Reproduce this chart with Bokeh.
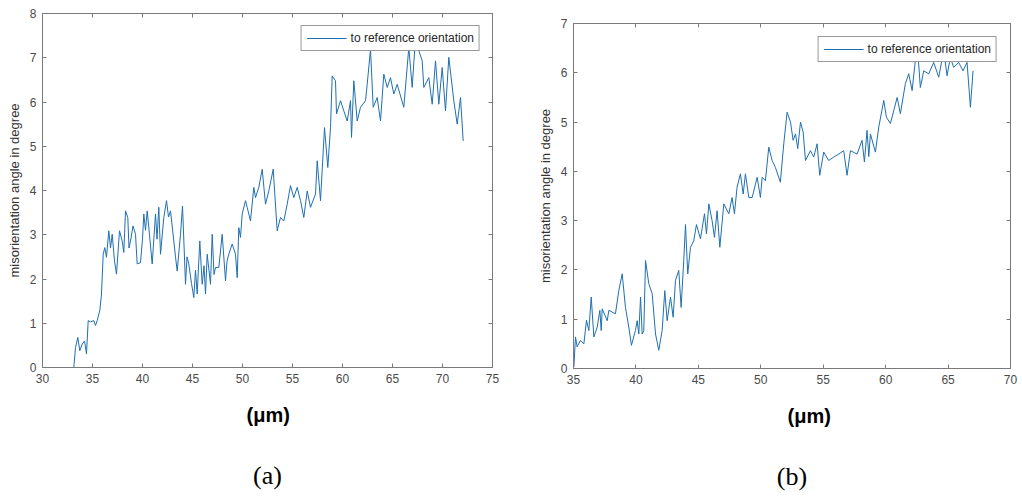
from bokeh.plotting import figure
from bokeh.models import Range1d, FixedTicker, LinearAxis, Title
from bokeh.layouts import row, column
from bokeh.embed import file_html
from bokeh.resources import INLINE

# ---------------- data ----------------
a_x = [33.13, 33.3, 33.53, 33.73, 33.97, 34.2, 34.4, 34.57, 34.8, 35.13, 35.3, 35.47, 35.73, 35.9,
       36.07, 36.23, 36.4, 36.63, 36.8, 36.97, 37.2, 37.4, 37.55, 37.7, 37.97, 38.13, 38.3, 38.53,
       38.65, 38.8, 39.05, 39.3, 39.47, 39.8, 40.0, 40.13, 40.3, 40.47, 40.7, 40.97, 41.3, 41.45,
       41.63, 41.8, 42.13, 42.4, 42.6, 42.8, 43.13, 43.3, 43.47, 43.8, 44.0, 44.3, 44.45, 44.63,
       44.9, 45.13, 45.3, 45.47, 45.73, 45.97, 46.15, 46.3, 46.47, 46.8, 46.97, 47.15, 47.3, 47.63,
       47.97, 48.3, 48.45, 48.63, 48.97, 49.3, 49.47, 49.63, 49.8, 49.97, 50.3, 50.47, 50.8, 51.13,
       51.3, 51.63, 51.97, 52.3, 52.63, 53.07, 53.47, 53.8, 54.13, 54.47, 54.8, 55.13, 55.47, 55.8,
       56.13, 56.47, 56.8, 57.3, 57.47, 57.8, 58.2, 58.53, 58.8, 58.97, 59.3, 59.4, 59.8, 60.13,
       60.47, 60.8, 60.9, 61.13, 61.47, 61.8, 62.3, 62.47, 62.8, 63.07, 63.47, 63.8, 64.13, 64.47,
       64.8, 65.13, 65.47, 66.13, 66.63, 66.97, 67.3, 67.63, 67.97, 68.13, 68.63, 68.97, 69.3, 69.63,
       69.97, 70.3, 70.63, 71.13, 71.47, 71.8, 72.07]
a_y = [0.0, 0.45, 0.68, 0.38, 0.53, 0.6, 0.31, 1.06, 1.03, 1.06, 0.95, 1.06, 1.29, 1.66,
       2.56, 2.71, 2.49, 3.09, 2.7, 3.01, 2.41, 2.11, 2.6, 3.09, 2.86, 2.6, 3.54, 3.39,
       2.7, 2.86, 3.2, 3.01, 2.34, 2.37, 2.9, 3.47, 3.1, 3.54, 3.0, 2.34, 3.47, 2.9,
       3.62, 2.56, 3.39, 3.77, 3.4, 3.54, 2.86, 2.5, 2.18, 3.01, 3.65, 1.88, 2.5, 2.34,
       1.9, 1.58, 2.2, 1.66, 2.86, 1.88, 2.3, 1.66, 2.56, 1.88, 3.01, 2.1, 2.26, 2.26,
       3.01, 1.96, 2.4, 2.56, 2.79, 2.56, 2.03, 3.16, 2.94, 3.47, 3.77, 3.62, 3.31, 4.07,
       3.84, 4.07, 4.48, 3.69, 3.99, 4.48, 3.09, 3.39, 3.31, 3.69, 4.11, 3.84, 4.07, 3.77,
       3.39, 3.99, 3.62, 3.92, 4.67, 3.77, 5.42, 4.52, 5.42, 6.59, 6.48, 5.73, 6.03, 5.8,
       5.57, 6.03, 5.2, 6.48, 5.57, 5.88, 6.03, 6.4, 7.19, 5.88, 6.1, 5.57, 6.63, 6.33,
       6.55, 6.18, 6.4, 5.88, 7.23, 6.33, 7.46, 7.16, 6.93, 6.33, 6.55, 5.95, 6.93, 5.95,
       6.78, 5.8, 7.01, 6.03, 5.5, 6.1, 5.12]

b_x = [35.03, 35.16, 35.29, 35.56, 35.83, 36.04, 36.23, 36.42, 36.63, 36.9, 37.11, 37.22, 37.3,
       37.7, 37.83, 38.36, 38.63, 38.9, 39.16, 39.43, 39.64, 39.96, 40.1, 40.23, 40.37, 40.5,
       40.63, 40.77, 41.03, 41.3, 41.57, 41.83, 42.1, 42.31, 42.5, 42.77, 42.98, 43.17, 43.43,
       43.62, 43.83, 43.97, 44.15, 44.37, 44.63, 44.85, 45.17, 45.49, 45.65, 45.84, 46.1, 46.29,
       46.5, 46.72, 47.04, 47.44, 47.7, 47.89, 48.1, 48.37, 48.59, 48.77, 49.04, 49.31, 49.71,
       49.97, 50.11, 50.37, 50.64, 50.91, 51.17, 51.57, 51.84, 52.11, 52.38, 52.59, 52.78, 52.96,
       53.18, 53.39, 53.58, 53.98, 54.24, 54.51, 54.72, 55.04, 55.44, 55.84, 56.24, 56.64, 56.91,
       57.18, 57.71, 58.11, 58.3, 58.51, 58.65, 58.78, 59.18, 59.45, 59.85, 60.06, 60.38, 60.65,
       60.92, 61.18, 61.58, 61.85, 62.12, 62.38, 62.57, 62.78, 63.05, 63.45, 63.85, 64.25, 64.65,
       64.92, 65.18, 65.45, 65.85, 66.2, 66.52, 66.79, 67.0]
b_y = [0.03, 0.64, 0.44, 0.57, 0.5, 0.98, 0.77, 1.45, 0.64, 0.84, 1.18, 0.77, 1.21,
       0.97, 1.18, 1.11, 1.58, 1.92, 1.24, 0.84, 0.47, 0.77, 0.97, 0.7, 1.45, 0.7,
       0.77, 2.19, 1.72, 1.52, 0.7, 0.37, 0.77, 1.58, 0.97, 1.45, 1.04, 1.79, 1.99,
       1.24, 2.19, 2.92, 1.92, 2.46, 2.59, 2.92, 2.63, 3.14, 2.73, 3.34, 3.0, 2.66,
       3.2, 2.46, 3.34, 3.14, 3.47, 3.14, 3.68, 3.95, 3.54, 3.95, 3.47, 3.47, 3.88,
       3.47, 3.88, 3.81, 4.49, 4.22, 4.08, 3.78, 4.56, 5.2, 5.0, 4.63, 4.76, 4.46,
       5.0, 4.8, 4.22, 4.42, 4.29, 4.56, 3.92, 4.39, 4.22, 4.29, 4.35, 4.42, 3.92,
       4.42, 4.35, 4.63, 4.19, 4.83, 4.3, 4.76, 4.39, 4.9, 5.44, 5.1, 4.97, 5.23,
       5.5, 5.17, 5.78, 5.98, 5.64, 6.25, 6.45, 5.7, 6.04, 5.98, 6.21, 5.91, 6.45,
       5.94, 6.31, 6.11, 6.21, 6.04, 6.21, 5.3, 6.04]

a_xticks = [30, 35, 40, 45, 50, 55, 60, 65, 70, 75]
a_yticks = [0, 1, 2, 3, 4, 5, 6, 7, 8]
b_xticks = [35, 40, 45, 50, 55, 60, 65, 70]
b_yticks = [0, 1, 2, 3, 4, 5, 6, 7]

series_label = "to reference orientation"
y_label = "misorientation angle in degree"
unit_label = "(\u03bcm)"

LINE = "#1f6fb0"
AX = "#7a7a7a"
TXT = "#4a4a4a"
SANS = "Liberation Sans"


def style_axis(ax, ticks, show_labels):
    ax.ticker = FixedTicker(ticks=ticks)
    ax.minor_tick_line_color = None
    ax.major_tick_in = 4
    ax.major_tick_out = 0
    ax.major_tick_line_color = AX
    ax.axis_line_color = AX
    ax.major_label_text_font = SANS
    if show_labels:
        ax.major_label_text_color = TXT
        ax.major_label_text_font_size = "12px"
        ax.major_label_standoff = 6
    else:
        ax.major_label_text_color = None
        ax.major_label_text_font_size = "1px"
        ax.major_label_standoff = 0


def make(xs, ys, xlo, xhi, ymax, xticks, yticks, borders, legend_margin, unit_off, tag):
    bl, br, bt, bb = borders
    p = figure(width=511, height=499, x_range=Range1d(xlo, xhi), y_range=Range1d(0, ymax),
               output_backend="svg", toolbar_location=None, title=None,
               min_border_left=bl, min_border_right=br, min_border_top=bt, min_border_bottom=bb)
    p.grid.visible = False
    p.outline_line_color = AX
    p.background_fill_color = "white"
    p.border_fill_color = "white"

    style_axis(p.xaxis[0], xticks, True)
    style_axis(p.yaxis[0], yticks, True)
    p.yaxis[0].axis_label = y_label
    p.yaxis[0].axis_label_text_font = SANS
    p.yaxis[0].axis_label_text_font_style = "normal"
    p.yaxis[0].axis_label_text_font_size = "13px"
    p.yaxis[0].axis_label_text_color = "#333333"
    p.yaxis[0].axis_label_standoff = 5

    top = LinearAxis()
    style_axis(top, xticks, False)
    p.add_layout(top, "above")
    right = LinearAxis()
    style_axis(right, yticks, False)
    p.add_layout(right, "right")

    p.line(xs, ys, line_color=LINE, line_width=1.0, legend_label=series_label)

    lg = p.legend[0]
    lg.location = "top_right"
    lg.margin = legend_margin
    lg.padding = 5
    lg.spacing = 0
    lg.glyph_width = 40
    lg.glyph_height = 12
    lg.label_height = 12
    lg.label_standoff = 4
    lg.label_text_font = SANS
    lg.label_text_font_size = "12px"
    lg.label_text_color = "#262626"
    lg.border_line_color = "#333333"
    lg.border_line_width = 1
    lg.background_fill_color = "white"
    lg.background_fill_alpha = 1.0

    # unit caption under the tick labels
    p.add_layout(Title(text=unit_label, align="left", text_font=SANS, text_font_style="bold",
                       text_font_size="20px", text_color="black", standoff=33, offset=unit_off), "below")
    # sub-figure tag, carried by a bare axis so its gaps can be set independently
    cap = LinearAxis(ticker=FixedTicker(ticks=[]), axis_line_color=None, major_tick_line_color=None,
                     minor_tick_line_color=None, major_label_text_color=None,
                     major_label_text_font_size="1px", major_label_standoff=0,
                     major_tick_in=0, major_tick_out=0, minor_tick_in=0, minor_tick_out=0,
                     axis_label=tag, axis_label_standoff=18, axis_label_text_font="Liberation Serif",
                     axis_label_text_font_style="normal", axis_label_text_font_size="26px",
                     axis_label_text_color="black")
    p.add_layout(cap, "below")
    return p


pa = make(a_x, a_y, 30, 75, 8, a_xticks, a_yticks, (42, 19, 13, 132), 12, 204, "(a)")
pb = make(b_x, b_y, 35, 70, 7, b_xticks, b_yticks, (62, 12, 23, 131), 13, 214, "(b)")

layout = row(column(pa), column(pb))
open("out.html", "w").write(file_html(layout, INLINE))
